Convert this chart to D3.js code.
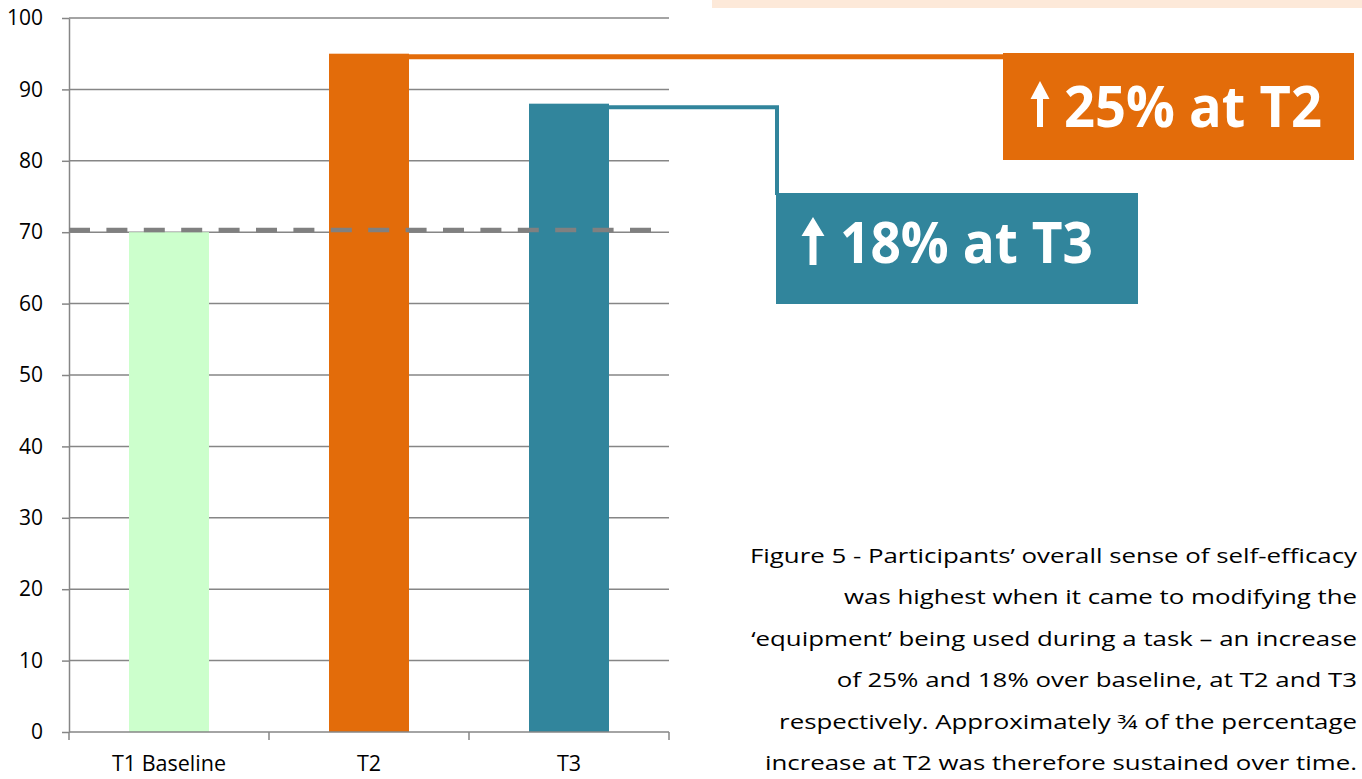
<!DOCTYPE html>
<html><head><meta charset="utf-8">
<script src="https://cdn.jsdelivr.net/npm/d3@7"></script>
<style>html,body{margin:0;padding:0;background:#fff;}svg{display:block;}</style>
</head><body>
<svg id="chart" width="1362" height="779"></svg>
<script>
const categories = ["T1 Baseline", "T2", "T3"];
const values = [70, 95, 88];
const barColors = ["#CCFFCC", "#E36C0A", "#31859C"];
const yTicks = [0, 10, 20, 30, 40, 50, 60, 70, 80, 90, 100];
const baselineValue = 70.3;
const calloutLabels = ["25% at T2", "18% at T3"];
const captionLines = [
  "Figure 5 - Participants\u2019 overall sense of self-efficacy",
  "was highest when it came to modifying the",
  "\u2018equipment\u2019 being used during a task \u2013 an increase",
  "of 25% and 18% over baseline, at T2 and T3",
  "respectively. Approximately \u00be of the percentage",
  "increase at T2 was therefore sustained over time."
];

(function () {
const svg = d3.select("#chart");
const font = "'Open Sans', 'Noto Sans', sans-serif";
const pLeft = 69, pRight = 669, pTop = 18, pBottom = 732;

const x = d3.scaleBand().domain(categories).range([pLeft, pRight]).paddingInner(0.6).paddingOuter(0.3);
const y = d3.scaleLinear().domain([0, 100]).range([pBottom, pTop]);

// peach band at top
svg.append("rect").attr("x", 712).attr("y", 0).attr("width", 650).attr("height", 8).attr("fill", "#FDE9D9");

// gridlines + y axis
const yAxis = d3.axisLeft(y).tickValues(yTicks).tickSize(7).tickSizeOuter(0).tickPadding(19);
const gY = svg.append("g").attr("transform", `translate(${pLeft},0)`).call(yAxis);
gY.select(".domain").attr("stroke", "#868686").attr("stroke-width", 1.5);
gY.selectAll(".tick line").attr("stroke", "#868686").attr("stroke-width", 1.5);
gY.selectAll(".tick text").attr("font-family", font).attr("font-size", 21).attr("fill", "#000");
svg.append("g").selectAll("line").data(yTicks.filter(d => d > 0)).join("line")
  .attr("x1", pLeft).attr("x2", pRight).attr("y1", d => y(d)).attr("y2", d => y(d))
  .attr("stroke", "#868686").attr("stroke-width", 1.5);

// bars
svg.append("g").selectAll("rect").data(values).join("rect")
  .attr("x", (d, i) => x(categories[i]))
  .attr("y", d => y(d))
  .attr("width", x.bandwidth())
  .attr("height", d => y(0) - y(d))
  .attr("fill", (d, i) => barColors[i]);

// x axis
const xEdges = d3.scaleLinear().domain([0, categories.length]).range([pLeft, pRight]);
const gX = svg.append("g").attr("transform", `translate(0,${pBottom})`);
gX.append("line").attr("x1", pLeft).attr("x2", pRight).attr("stroke", "#868686").attr("stroke-width", 1.5);
gX.selectAll("line.tk").data(d3.range(categories.length + 1)).join("line").attr("class", "tk")
  .attr("x1", d => xEdges(d)).attr("x2", d => xEdges(d)).attr("y1", 0).attr("y2", 8)
  .attr("stroke", "#868686").attr("stroke-width", 1.5);
gX.selectAll("text").data(categories).join("text")
  .attr("x", d => x(d) + x.bandwidth() / 2).attr("y", 39)
  .attr("text-anchor", "middle").attr("font-family", font).attr("font-size", 21.5).attr("fill", "#000")
  .text(d => d);

// baseline dashed line
svg.append("line").attr("x1", pLeft).attr("x2", 651)
  .attr("y1", y(baselineValue)).attr("y2", y(baselineValue))
  .attr("stroke", "#808080").attr("stroke-width", 4.5).attr("stroke-dasharray", "21,16.4");

// connectors
svg.append("line").attr("x1", x("T2") + x.bandwidth()).attr("x2", 1004)
  .attr("y1", y(values[1]) + 3).attr("y2", y(values[1]) + 3)
  .attr("stroke", "#E36C0A").attr("stroke-width", 5);
svg.append("path")
  .attr("d", `M${x("T3") + x.bandwidth()},${y(values[2]) + 3.5} H777 V195`)
  .attr("fill", "none").attr("stroke", "#31859C").attr("stroke-width", 4);

// callout boxes
function arrow(cx, yTop, yBot, headW, headH, shaftW) {
  return `M${cx},${yTop} L${cx + headW / 2},${yTop + headH} L${cx + shaftW / 2},${yTop + headH} L${cx + shaftW / 2},${yBot} L${cx - shaftW / 2},${yBot} L${cx - shaftW / 2},${yTop + headH} L${cx - headW / 2},${yTop + headH} Z`;
}
svg.append("rect").attr("x", 1003).attr("y", 53).attr("width", 351).attr("height", 107).attr("fill", "#E36C0A");
svg.append("path").attr("d", arrow(1040, 81, 127, 19, 18, 6)).attr("fill", "#fff");
svg.append("text").attr("x", 1064).attr("y", 127).attr("font-family", font).attr("font-weight", 700)
  .attr("font-size", 58).attr("fill", "#fff").attr("textLength", 258).attr("lengthAdjust", "spacingAndGlyphs")
  .text(calloutLabels[0]);

svg.append("rect").attr("x", 776).attr("y", 193).attr("width", 362).attr("height", 111).attr("fill", "#31859C");
svg.append("path").attr("d", arrow(813, 217, 265, 23, 19, 7)).attr("fill", "#fff");
svg.append("text").attr("x", 840).attr("y", 263).attr("font-family", font).attr("font-weight", 700)
  .attr("font-size", 57).attr("fill", "#fff").attr("textLength", 253).attr("lengthAdjust", "spacingAndGlyphs")
  .text(calloutLabels[1]);

// caption (right-aligned, horizontally stretched to match reference widths)
const capRight = 1357, firstLineWidth = 607;
const capTexts = svg.append("g").selectAll("text").data(captionLines).join("text")
  .attr("y", (d, i) => 563 + i * 41.4)
  .attr("font-family", font).attr("font-size", 20.5).attr("fill", "#000")
  .text(d => d);
const natural = capTexts.nodes().map(n => n.getComputedTextLength());
const k = firstLineWidth / natural[0];
capTexts.each(function (d, i) {
  const w = natural[i] * k;
  d3.select(this).attr("x", capRight - w).attr("textLength", w).attr("lengthAdjust", "spacingAndGlyphs");
});
})();
</script>
</body></html>
